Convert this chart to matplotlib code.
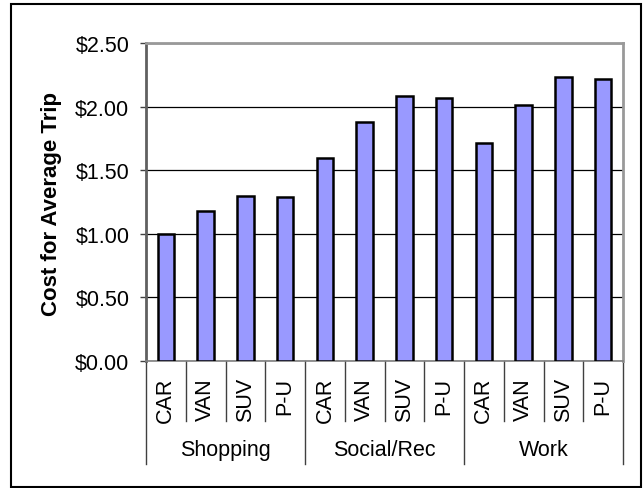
import matplotlib
matplotlib.use("Agg")
import matplotlib.pyplot as plt
from matplotlib.patches import Rectangle
from matplotlib.ticker import FuncFormatter, MultipleLocator

plt.rcParams["font.family"] = ["Liberation Sans", "DejaVu Sans"]

# data
groups = ["Shopping", "Social/Rec", "Work"]
vehicles = ["CAR", "VAN", "SUV", "P-U"]
shopping = [1.00, 1.18, 1.30, 1.29]
social = [1.595, 1.88, 2.08, 2.07]
work = [1.71, 2.01, 2.23, 2.22]

values = shopping + social + work
n_veh = len(vehicles)
xs = list(range(len(values)))

W, H = 644, 489
fig = plt.figure(figsize=(W / 100, H / 100), dpi=100)
ax = fig.add_axes([146 / W, 1 - 362 / H, (623 - 146) / W, (362 - 44) / H])

ax.bar(xs, values, width=0.42, color="#9999FF", edgecolor="black", lw=1.8, zorder=3)

ax.set_xlim(-0.5, len(values) - 0.5)
ax.set_ylim(0, 2.5)
ax.yaxis.set_major_locator(MultipleLocator(0.5))
ax.yaxis.set_major_formatter(FuncFormatter(lambda v, p: f"${v:.2f}"))
ax.grid(axis="y", color="black", lw=0.9, zorder=0)
ax.tick_params(axis="y", length=4, width=1, color="#404040", pad=8, labelsize=15.5)
ax.set_xticks([])

for side in ["top", "right"]:
    ax.spines[side].set_color("#999999")
    ax.spines[side].set_linewidth(2)
ax.spines["left"].set_color("#606060")
ax.spines["left"].set_linewidth(2)
ax.spines["bottom"].set_color("#808080")
ax.spines["bottom"].set_linewidth(1.2)

# two-level category axis
trans = ax.get_xaxis_transform()
for i, v in enumerate(vehicles * len(groups)):
    ax.text(i, -0.05, v, rotation=90, ha="center", va="top", fontsize=15.5,
            transform=trans)
for b in range(len(values) + 1):
    bottom = -0.324 if b % n_veh == 0 else -0.189
    ax.plot([b - 0.5, b - 0.5], [0, bottom], color="#404040", lw=1,
            transform=trans, clip_on=False)
for g, name in enumerate(groups):
    ax.text(g * n_veh + (n_veh - 1) / 2, -0.277, name, ha="center", va="center",
            fontsize=15.5, transform=trans)

fig.text(52 / W, 1 - 203.5 / H, "Cost for Average Trip", rotation=90,
         ha="center", va="center", fontsize=16, fontweight="bold")

# chart border
fig.patches.append(Rectangle((11 / W, 1 / H), (641 - 11) / W, (488 - 5) / H,
                             transform=fig.transFigure, fill=False,
                             edgecolor="black", lw=1.5))

fig.savefig("out.png", dpi=100)
